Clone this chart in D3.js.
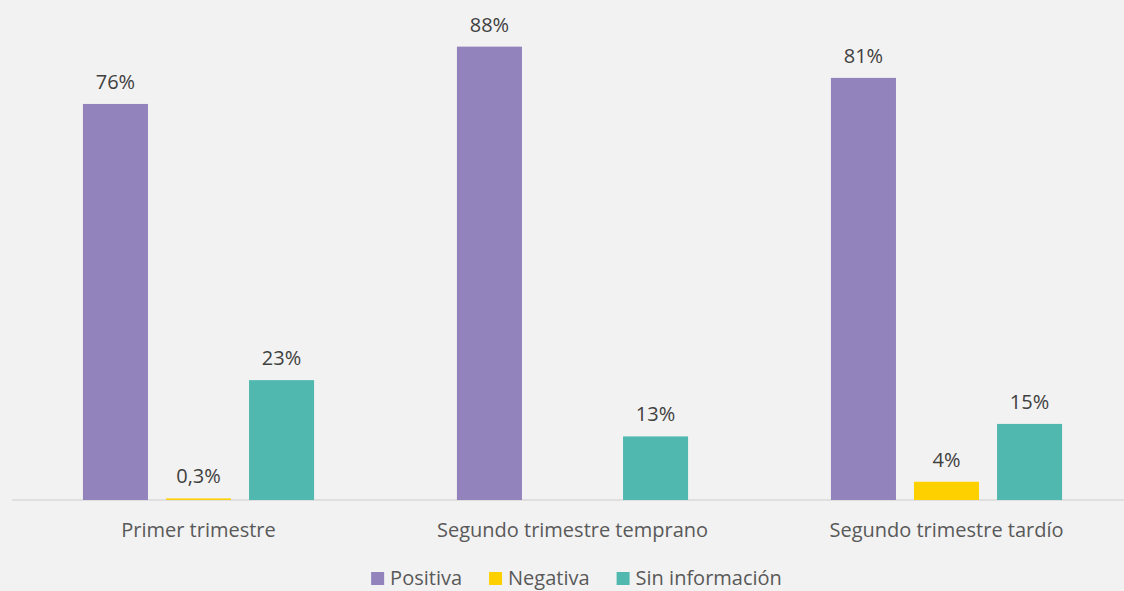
<!DOCTYPE html>
<html>
<head>
<meta charset="utf-8">
<script src="https://cdn.jsdelivr.net/npm/d3@7"></script>
<style>
  html, body { margin: 0; padding: 0; background: #f2f2f2; }
  svg { display: block; font-family: "Open Sans", "Noto Sans", sans-serif; font-weight: 400; }
</style>
</head>
<body>
<script>
const w = 1124;
const h = 591;

// data
const categories = ["Primer trimestre", "Segundo trimestre temprano", "Segundo trimestre tardío"];
const seriesNames = ["Positiva", "Negativa", "Sin información"];
const seriesColors = ["#9283bd", "#ffd000", "#51b8b0"];
const positiva = [76.0, 87.0, 81.0];
const negativa = [0.3, null, 3.5];
const sinInfo = [23.0, 12.2, 14.6];
const positivaLabels = ["76%", "88%", "81%"];
const negativaLabels = ["0,3%", null, "4%"];
const sinInfoLabels = ["23%", "13%", "15%"];

const values = [positiva, negativa, sinInfo];
const labels = [positivaLabels, negativaLabels, sinInfoLabels];

const rows = [];
categories.forEach((c, i) => {
  seriesNames.forEach((s, j) => {
    if (values[j][i] != null) {
      rows.push({ cat: c, series: s, value: values[j][i], label: labels[j][i], color: seriesColors[j] });
    }
  });
});

const svg = d3.select("body").append("svg").attr("width", w).attr("height", h);

const base = 500;
const fs = 20;

const x0 = d3.scaleBand().domain(categories).range([11.5, 1133.5]).padding(0);
const x1 = d3
  .scaleBand()
  .domain(seriesNames)
  .range([0, x0.bandwidth()])
  .paddingInner(18 / 83)
  .paddingOuter(0.86);
const y = d3.scaleLinear().domain([0, 90]).range([base, 31]);

// baseline
svg
  .append("line")
  .attr("x1", 12)
  .attr("x2", w)
  .attr("y1", base)
  .attr("y2", base)
  .attr("stroke", "#d9d9d9")
  .attr("stroke-width", 1.5);

// bars
svg
  .selectAll("rect.bar")
  .data(rows)
  .enter()
  .append("rect")
  .attr("class", "bar")
  .attr("x", (d) => x0(d.cat) + x1(d.series))
  .attr("width", x1.bandwidth())
  .attr("y", (d) => y(d.value))
  .attr("height", (d) => base - y(d.value))
  .attr("fill", (d) => d.color);

// data labels
svg
  .selectAll("text.lbl")
  .data(rows)
  .enter()
  .append("text")
  .attr("class", "lbl")
  .attr("x", (d) => x0(d.cat) + x1(d.series) + x1.bandwidth() / 2)
  .attr("y", (d) => y(d.value) - 15)
  .attr("text-anchor", "middle")
  .attr("font-size", fs)
  .attr("fill", "#404040")
  .text((d) => d.label);

// x-axis labels
const xAxis = d3.axisBottom(x0).tickSize(0).tickPadding(23);
const xAG = svg.append("g").attr("transform", `translate(0, ${base})`).call(xAxis);
xAG.select(".domain").remove();
xAG
  .selectAll("text")
  .attr("font-size", fs)
  .attr("font-family", "'Open Sans', 'Noto Sans', sans-serif")
  .attr("fill", "#595959");

// legend
const legend = svg.append("g");
let lx = 0;
seriesNames.forEach((s, j) => {
  const g = legend.append("g").attr("transform", `translate(${lx}, 0)`);
  g.append("rect").attr("x", 0).attr("y", 572).attr("width", 13).attr("height", 13).attr("fill", seriesColors[j]);
  const t = g
    .append("text")
    .attr("x", 19)
    .attr("y", 585)
    .attr("font-size", fs)
    .attr("fill", "#595959")
    .text(s);
  lx += 19 + t.node().getComputedTextLength() + 27;
});
const legW = lx - 27;
legend.attr("transform", `translate(${576.5 - legW / 2}, 0)`);
</script>
</body>
</html>
